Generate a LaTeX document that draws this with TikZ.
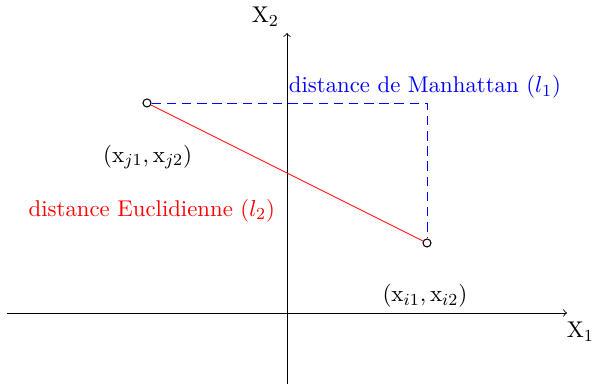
\documentclass[tikz,border=0pt]{standalone}
\usepackage{tikz}
\definecolor{eucl}{HTML}{FF0000}
\definecolor{manh}{HTML}{0000FF}

\begin{document}
\begin{tikzpicture}[x=1.167cm,y=1.167cm,font=\fontsize{10.8}{13}\selectfont,
  axis/.style={->,line width=.4pt},
  pt/.style={circle,draw,inner sep=0pt,minimum size=3.8pt,line width=.5pt}]
\useasboundingbox (-4.1,-1.014) rectangle (4.414,4.471);
% axes
\coordinate (xmin) at (-4,0);
\coordinate (xmax) at (4,0);
\coordinate (ymin) at (0,-1.02);
\coordinate (ymax) at (0,4);
\draw[axis] (xmin) -- (xmax);
\draw[axis] (ymin) -- (ymax);
\node (xlab) at (4.19,-0.27) {X$_1$};
\node (ylab) at (-0.31,4.23) {X$_2$};
% the two points
\node[pt] (pj) at (-2,3) {};
\node[pt] (pi) at (2,1) {};
\coordinate (corner) at (2,3);
% manhattan path
\draw[manh,dash pattern=on 4.5pt off 2.7pt,line width=.45pt] (pj) -- (corner) -- (pi);
% euclidean segment
\draw[eucl,line width=.4pt] (pj) -- (pi);
% labels
\node (lj) at (-1.99,2.23) {$(\mathrm{x}_{j1},\mathrm{x}_{j2})$};
\node (li) at (1.97,0.24) {$(\mathrm{x}_{i1},\mathrm{x}_{i2})$};
\node[text=eucl] (le) at (-1.93,1.46) {distance Euclidienne ($l_2$)};
\node[text=manh] (lm) at (1.97,3.23) {distance de Manhattan ($l_1$)};
\end{tikzpicture}
\end{document}
